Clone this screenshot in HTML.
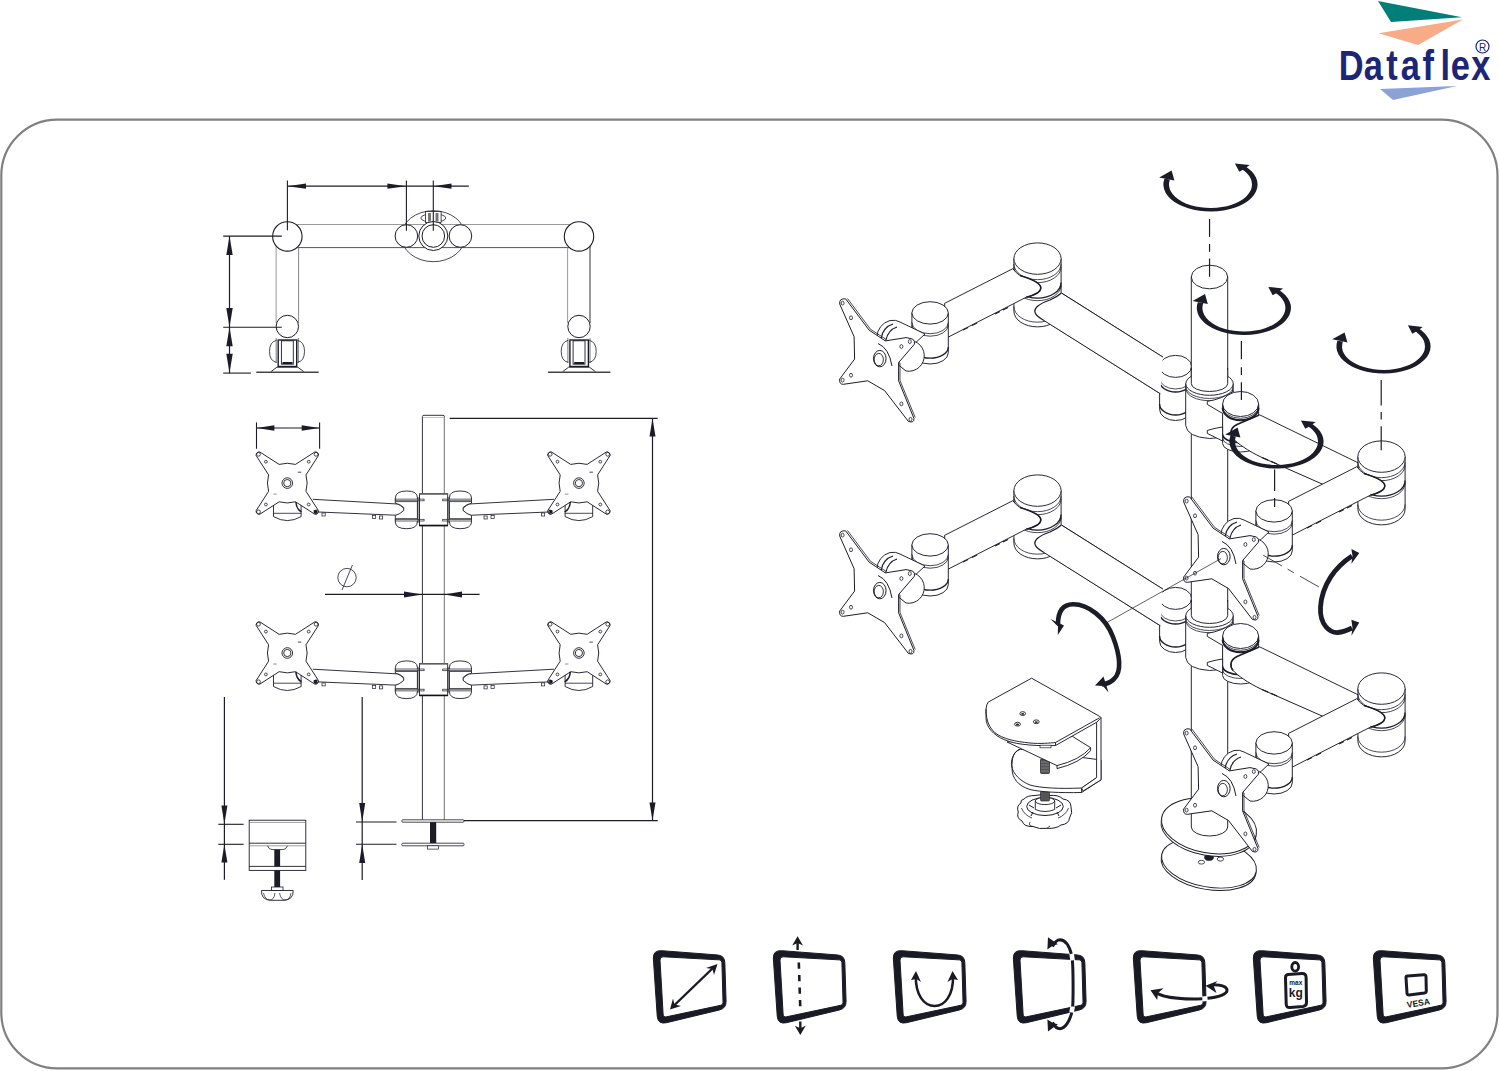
<!DOCTYPE html>
<html><head><meta charset="utf-8">
<style>
html,body{margin:0;padding:0;background:#fff;width:1499px;height:1071px;overflow:hidden;}
svg{display:block;position:absolute;left:0;top:0;}
text{font-family:"Liberation Sans",sans-serif;}
</style></head>
<body>
<svg width="1499" height="1071" viewBox="0 0 1499 1071">
<rect x="1.3" y="119.6" width="1496.2" height="948.8" rx="56" ry="56" fill="none" stroke="#808080" stroke-width="2.2"/>
<g id="logo">
  <polygon points="1378,1 1462,17.3 1391,22" fill="#007f78"/>
  <polygon points="1378.5,33.2 1463,19.6 1418,45" fill="#f7ab86"/>
  <polygon points="1380,89 1457,86 1393,100" fill="#8aa2d5"/>
  <text x="0" y="0" font-size="43" font-weight="bold" fill="#1c2576" text-anchor="middle" transform="translate(1351.2,79.5) scale(0.8,1)">D</text>
  <text x="0" y="0" font-size="43" font-weight="bold" fill="#1c2576" text-anchor="middle" transform="translate(1373.4,79.5) scale(0.8,1)">a</text>
  <text x="0" y="0" font-size="43" font-weight="bold" fill="#1c2576" text-anchor="middle" transform="translate(1392,79.5) scale(0.8,1)">t</text>
  <text x="0" y="0" font-size="43" font-weight="bold" fill="#1c2576" text-anchor="middle" transform="translate(1410.4,79.5) scale(0.8,1)">a</text>
  <text x="0" y="0" font-size="43" font-weight="bold" fill="#1c2576" text-anchor="middle" transform="translate(1428.2,79.5) scale(0.8,1)">f</text>
  <text x="0" y="0" font-size="43" font-weight="bold" fill="#1c2576" text-anchor="middle" transform="translate(1445.3,79.5) scale(0.8,1)">l</text>
  <text x="0" y="0" font-size="43" font-weight="bold" fill="#1c2576" text-anchor="middle" transform="translate(1460.3,79.5) scale(0.8,1)">e</text>
  <text x="0" y="0" font-size="43" font-weight="bold" fill="#1c2576" text-anchor="middle" transform="translate(1480.8,79.5) scale(0.8,1)">x</text>
  <circle cx="1482.5" cy="46.5" r="6.5" fill="none" stroke="#1c2576" stroke-width="1.2"/>
  <text x="1482.5" y="50.5" font-size="10" fill="#1c2576" text-anchor="middle">R</text>
</g>
<g id="topview" fill="none" stroke-linecap="butt">
<line x1="287.4" y1="186.2" x2="468.8" y2="186.2" stroke="#1b1c28" stroke-width="1.2"/>
<polygon points="287.4,186.2 306,188.8 306,183.6" fill="#1b1c28"/>
<polygon points="406.2,186.2 387.4,183.6 387.4,188.8" fill="#1b1c28"/>
<polygon points="433.5,186.2 451.5,188.8 451.5,183.6" fill="#1b1c28"/>
<ellipse cx="433.3" cy="236.2" rx="32" ry="25.5" stroke="#1b1c28" stroke-width="0.8"/>
<line x1="287" y1="224.5" x2="579" y2="224.5" stroke="#9a9a9a" stroke-width="1.0"/>
<line x1="287" y1="247.6" x2="579" y2="247.6" stroke="#555" stroke-width="1.0"/>
<line x1="276.1" y1="236" x2="276.1" y2="323" stroke="#999" stroke-width="1.0"/>
<line x1="298.6" y1="247.6" x2="298.6" y2="323" stroke="#888" stroke-width="1.0"/>
<line x1="567.6" y1="247.6" x2="567.6" y2="323" stroke="#999" stroke-width="1.0"/>
<line x1="590" y1="236" x2="590" y2="323" stroke="#333" stroke-width="1.0"/>
<circle cx="287.35" cy="236.4" r="14.7" fill="#fff" stroke="#1b1c28" stroke-width="1.1"/>
<circle cx="287.35" cy="326.5" r="11.2" fill="#fff" stroke="#1b1c28" stroke-width="1"/>
<circle cx="579" cy="236.4" r="14.7" fill="#fff" stroke="#1b1c28" stroke-width="1.1"/>
<circle cx="579" cy="326.5" r="11.2" fill="#fff" stroke="#1b1c28" stroke-width="1"/>
<ellipse cx="433.3" cy="218" rx="12.5" ry="4.2" fill="#fff" stroke="#1b1c28" stroke-width="0.8"/>
<rect x="425.5" y="211.5" width="15.6" height="11" fill="#fff" stroke="#1b1c28" stroke-width="0.8"/>
<rect x="428" y="213" width="3" height="8.5" fill="#777"/>
<rect x="435.5" y="213" width="3" height="8.5" fill="#777"/>
<circle cx="406.4" cy="236" r="11.3" fill="#fff" stroke="#1b1c28" stroke-width="1"/>
<circle cx="460.4" cy="236" r="11.3" fill="#fff" stroke="#1b1c28" stroke-width="1"/>
<circle cx="433.3" cy="236" r="14.5" fill="#fff" stroke="#1b1c28" stroke-width="1"/>
<circle cx="433.3" cy="236" r="11.3" fill="#fff" stroke="#1b1c28" stroke-width="1"/>
<line x1="406.4" y1="180.5" x2="406.4" y2="230.8" stroke="#1b1c28" stroke-width="1.1"/>
<line x1="287.4" y1="180.5" x2="287.4" y2="230.3" stroke="#1b1c28" stroke-width="1.1"/>
<line x1="433.3" y1="180.5" x2="433.3" y2="230.8" stroke="#1b1c28" stroke-width="1.1"/>
<g transform="translate(0,0)"><path d="M276.5,340.3 Q269.5,342 269.5,351.3 Q269.5,361 276.5,362.4" stroke="#1b1c28" stroke-width="0.8"/><path d="M297.5,340.3 Q304.5,342 304.5,351.3 Q304.5,361 297.5,362.4" stroke="#1b1c28" stroke-width="0.8"/><rect x="278.2" y="340" width="18.5" height="26.5" fill="#fff" stroke="#1b1c28" stroke-width="1.4"/><rect x="281.4" y="340.8" width="11.9" height="23.4" stroke="#1b1c28" stroke-width="0.9"/><rect x="282.5" y="362" width="10" height="2" fill="#1b1c28"/><line x1="276.2" y1="338" x2="276.2" y2="363" stroke="#1b1c28" stroke-width="0.6"/><line x1="298.3" y1="338" x2="298.3" y2="363" stroke="#1b1c28" stroke-width="0.6"/><polyline points="270.9,371.7 276.9,367.2 297.8,367.2 303.8,371.7" stroke="#1b1c28" stroke-width="0.9"/><line x1="256.3" y1="372.2" x2="318.7" y2="372.2" stroke="#444" stroke-width="1.5"/></g>
<g transform="translate(291.7,0)"><path d="M276.5,340.3 Q269.5,342 269.5,351.3 Q269.5,361 276.5,362.4" stroke="#1b1c28" stroke-width="0.8"/><path d="M297.5,340.3 Q304.5,342 304.5,351.3 Q304.5,361 297.5,362.4" stroke="#1b1c28" stroke-width="0.8"/><rect x="278.2" y="340" width="18.5" height="26.5" fill="#fff" stroke="#1b1c28" stroke-width="1.4"/><rect x="281.4" y="340.8" width="11.9" height="23.4" stroke="#1b1c28" stroke-width="0.9"/><rect x="282.5" y="362" width="10" height="2" fill="#1b1c28"/><line x1="276.2" y1="338" x2="276.2" y2="363" stroke="#1b1c28" stroke-width="0.6"/><line x1="298.3" y1="338" x2="298.3" y2="363" stroke="#1b1c28" stroke-width="0.6"/><polyline points="270.9,371.7 276.9,367.2 297.8,367.2 303.8,371.7" stroke="#1b1c28" stroke-width="0.9"/><line x1="256.3" y1="372.2" x2="318.7" y2="372.2" stroke="#444" stroke-width="1.5"/></g>
<line x1="229.5" y1="236.1" x2="229.5" y2="373.1" stroke="#1b1c28" stroke-width="1.2"/>
<line x1="223.2" y1="236.1" x2="281.8" y2="236.1" stroke="#1b1c28" stroke-width="1.1"/>
<line x1="223.2" y1="327.3" x2="281.8" y2="327.3" stroke="#1b1c28" stroke-width="1.1"/>
<line x1="223.2" y1="373.1" x2="250.9" y2="373.1" stroke="#1b1c28" stroke-width="1.1"/>
<polygon points="229.5,236.1 226.3,255.1 232.7,255.1" fill="#1b1c28"/>
<polygon points="229.5,327.3 232.7,308.1 226.3,308.1" fill="#1b1c28"/>
<polygon points="229.5,327.3 226.3,346.2 232.7,346.2" fill="#1b1c28"/>
<polygon points="229.5,373.1 232.7,353.7 226.3,353.7" fill="#1b1c28"/>
</g>
<g id="frontview" fill="none" stroke-linecap="butt">
<path d="M422.4,820 L422.4,416.5 Q422.5,415.3 424,415.3 L443,415.3 Q444.4,415.3 444.4,416.5 L444.4,820" fill="#fff" stroke="#1b1c28" stroke-width="0.9"/>
<line x1="444.4" y1="417" x2="444.4" y2="820" stroke="#999" stroke-width="1.0"/>
<line x1="422.7" y1="417.5" x2="444.1" y2="417.5" stroke="#aaa" stroke-width="0.7"/>
<g transform="translate(0,0.0)"><path d="M312.8,499.3 L397.7,504 Q405,508 404,509.3 Q405,511 397.7,515.3 L318.4,512" fill="#fff" stroke="#1b1c28" stroke-width="0.9"/><path d="M554,499.3 L469.1,504 Q462,508 463,509.3 Q462,511 469.1,515.3 L548.4,512" fill="#fff" stroke="#1b1c28" stroke-width="0.9"/><rect x="322" y="513" width="3.2" height="3" stroke="#1b1c28" stroke-width="0.7"/><rect x="372.5" y="515.5" width="3.2" height="3" stroke="#1b1c28" stroke-width="0.7"/><rect x="379.5" y="516" width="3.2" height="3" stroke="#1b1c28" stroke-width="0.7"/><rect x="541.5" y="513" width="3.2" height="3" stroke="#1b1c28" stroke-width="0.7"/><rect x="491" y="515.5" width="3.2" height="3" stroke="#1b1c28" stroke-width="0.7"/><rect x="484" y="516" width="3.2" height="3" stroke="#1b1c28" stroke-width="0.7"/><g><path d="M395.3,498 Q395.6,491 406.7,491 Q417.5,491 417.4,497.7 L417.4,521.5 Q417.5,528.7 406.7,528.7 Q395.6,528.7 395.3,522 L395.3,515.5 Q400,514 403.7,510.5 L403.7,507.5 Q400,504 395.3,503.2 Z" fill="#fff" stroke="#1b1c28" stroke-width="0.9"/><rect x="395.3" y="499.1" width="28.8" height="1.7" fill="#fff" stroke="#1b1c28" stroke-width="0.7"/><rect x="395.3" y="519.3" width="28.8" height="1.7" fill="#fff" stroke="#1b1c28" stroke-width="0.7"/><line x1="395.5" y1="501.6" x2="417.5" y2="501.6" stroke="#444" stroke-width="0.9"/><line x1="395.5" y1="518.6" x2="417.5" y2="518.6" stroke="#444" stroke-width="0.9"/><line x1="417.9" y1="497" x2="417.9" y2="523" stroke="#1b1c28" stroke-width="0.7"/><line x1="419.3" y1="497" x2="419.3" y2="523" stroke="#1b1c28" stroke-width="0.7"/></g><g transform="translate(866.8,0) scale(-1,1)"><path d="M395.3,498 Q395.6,491 406.7,491 Q417.5,491 417.4,497.7 L417.4,521.5 Q417.5,528.7 406.7,528.7 Q395.6,528.7 395.3,522 L395.3,515.5 Q400,514 403.7,510.5 L403.7,507.5 Q400,504 395.3,503.2 Z" fill="#fff" stroke="#1b1c28" stroke-width="0.9"/><rect x="395.3" y="499.1" width="28.8" height="1.7" fill="#fff" stroke="#1b1c28" stroke-width="0.7"/><rect x="395.3" y="519.3" width="28.8" height="1.7" fill="#fff" stroke="#1b1c28" stroke-width="0.7"/><line x1="395.5" y1="501.6" x2="417.5" y2="501.6" stroke="#444" stroke-width="0.9"/><line x1="395.5" y1="518.6" x2="417.5" y2="518.6" stroke="#444" stroke-width="0.9"/><line x1="417.9" y1="497" x2="417.9" y2="523" stroke="#1b1c28" stroke-width="0.7"/><line x1="419.3" y1="497" x2="419.3" y2="523" stroke="#1b1c28" stroke-width="0.7"/></g><rect x="419.5" y="493.7" width="28.2" height="32" fill="#fff" stroke="#1b1c28" stroke-width="0.9"/><rect x="419.5" y="499.1" width="4.6" height="1.7" fill="#fff" stroke="#1b1c28" stroke-width="0.7"/><rect x="419.5" y="519.3" width="4.6" height="1.7" fill="#fff" stroke="#1b1c28" stroke-width="0.7"/><rect x="442.7" y="499.1" width="4.6" height="1.7" fill="#fff" stroke="#1b1c28" stroke-width="0.7"/><rect x="442.7" y="519.3" width="4.6" height="1.7" fill="#fff" stroke="#1b1c28" stroke-width="0.7"/><line x1="419.5" y1="494" x2="447.7" y2="494" stroke="#666" stroke-width="1.5"/><line x1="419.5" y1="525.5" x2="447.7" y2="525.5" stroke="#111" stroke-width="1.6"/></g>
<g transform="translate(287.3,483.1)"><path d="M-13.8,17 L-13.8,33.5 Q0,41.5 13.8,33.5 L13.8,17" fill="#fff" stroke="#1b1c28" stroke-width="0.9"/><line x1="-13.8" y1="30.2" x2="13.8" y2="30.2" stroke="#1b1c28" stroke-width="0.8"/><path d="M-27.6,-31.2 L-8.2,-18.7 Q0,-21 8.2,-18.7 L27.6,-31.2 A3.2,3.2 0 0 1 31.2,-27.6 L18.7,-8.2 Q21,0 18.7,8.2 L31.2,27.6 A3.2,3.2 0 0 1 27.6,31.2 L8.2,18.7 Q0,21 -8.2,18.7 L-27.6,31.2 A3.2,3.2 0 0 1 -31.2,27.6 L-18.7,8.2 Q-21,0 -18.7,-8.2 L-31.2,-27.6 A3.2,3.2 0 0 1 -27.6,-31.2 Z" fill="#fff" stroke="#1b1c28" stroke-width="0.95"/><path d="M8.6,18.9 Q9,26 14.2,28.8" fill="none" stroke="#1b1c28" stroke-width="1.5"/><rect x="26.5" y="27" width="3.2" height="3.2" fill="#1b1c28"/><circle cx="-28.8" cy="-28.8" r="1.9" stroke="#1b1c28" stroke-width="0.8"/><circle cx="-21.4" cy="-21.4" r="1.4" stroke="#1b1c28" stroke-width="0.8"/><circle cx="-28.8" cy="28.8" r="1.9" stroke="#1b1c28" stroke-width="0.8"/><circle cx="-21.4" cy="21.4" r="1.4" stroke="#1b1c28" stroke-width="0.8"/><circle cx="28.8" cy="-28.8" r="1.9" stroke="#1b1c28" stroke-width="0.8"/><circle cx="21.4" cy="-21.4" r="1.4" stroke="#1b1c28" stroke-width="0.8"/><circle cx="28.8" cy="28.8" r="1.9" stroke="#1b1c28" stroke-width="0.8"/><circle cx="21.4" cy="21.4" r="1.4" stroke="#1b1c28" stroke-width="0.8"/><circle cx="0" cy="0" r="5.3" stroke="#1b1c28" stroke-width="0.9"/><circle cx="0" cy="0" r="3.6" stroke="#1b1c28" stroke-width="0.9"/><line x1="10.5" y1="-10.9" x2="14" y2="-10.9" stroke="#1b1c28" stroke-width="0.8"/><line x1="-14" y1="11" x2="-10.5" y2="11" stroke="#777" stroke-width="0.8"/></g>
<g transform="translate(578.9,483.1)"><path d="M-13.8,17 L-13.8,33.5 Q0,41.5 13.8,33.5 L13.8,17" fill="#fff" stroke="#1b1c28" stroke-width="0.9"/><line x1="-13.8" y1="30.2" x2="13.8" y2="30.2" stroke="#1b1c28" stroke-width="0.8"/><path d="M-27.6,-31.2 L-8.2,-18.7 Q0,-21 8.2,-18.7 L27.6,-31.2 A3.2,3.2 0 0 1 31.2,-27.6 L18.7,-8.2 Q21,0 18.7,8.2 L31.2,27.6 A3.2,3.2 0 0 1 27.6,31.2 L8.2,18.7 Q0,21 -8.2,18.7 L-27.6,31.2 A3.2,3.2 0 0 1 -31.2,27.6 L-18.7,8.2 Q-21,0 -18.7,-8.2 L-31.2,-27.6 A3.2,3.2 0 0 1 -27.6,-31.2 Z" fill="#fff" stroke="#1b1c28" stroke-width="0.95"/><path d="M-8.6,18.9 Q-9,26 -14.2,28.8" fill="none" stroke="#1b1c28" stroke-width="1.5"/><rect x="-29.7" y="27" width="3.2" height="3.2" fill="#1b1c28"/><circle cx="-28.8" cy="-28.8" r="1.9" stroke="#1b1c28" stroke-width="0.8"/><circle cx="-21.4" cy="-21.4" r="1.4" stroke="#1b1c28" stroke-width="0.8"/><circle cx="-28.8" cy="28.8" r="1.9" stroke="#1b1c28" stroke-width="0.8"/><circle cx="-21.4" cy="21.4" r="1.4" stroke="#1b1c28" stroke-width="0.8"/><circle cx="28.8" cy="-28.8" r="1.9" stroke="#1b1c28" stroke-width="0.8"/><circle cx="21.4" cy="-21.4" r="1.4" stroke="#1b1c28" stroke-width="0.8"/><circle cx="28.8" cy="28.8" r="1.9" stroke="#1b1c28" stroke-width="0.8"/><circle cx="21.4" cy="21.4" r="1.4" stroke="#1b1c28" stroke-width="0.8"/><circle cx="0" cy="0" r="5.3" stroke="#1b1c28" stroke-width="0.9"/><circle cx="0" cy="0" r="3.6" stroke="#1b1c28" stroke-width="0.9"/><line x1="10.5" y1="-10.9" x2="14" y2="-10.9" stroke="#1b1c28" stroke-width="0.8"/><line x1="-14" y1="11" x2="-10.5" y2="11" stroke="#777" stroke-width="0.8"/></g>
<g transform="translate(0,169.89999999999998)"><path d="M312.8,499.3 L397.7,504 Q405,508 404,509.3 Q405,511 397.7,515.3 L318.4,512" fill="#fff" stroke="#1b1c28" stroke-width="0.9"/><path d="M554,499.3 L469.1,504 Q462,508 463,509.3 Q462,511 469.1,515.3 L548.4,512" fill="#fff" stroke="#1b1c28" stroke-width="0.9"/><rect x="322" y="513" width="3.2" height="3" stroke="#1b1c28" stroke-width="0.7"/><rect x="372.5" y="515.5" width="3.2" height="3" stroke="#1b1c28" stroke-width="0.7"/><rect x="379.5" y="516" width="3.2" height="3" stroke="#1b1c28" stroke-width="0.7"/><rect x="541.5" y="513" width="3.2" height="3" stroke="#1b1c28" stroke-width="0.7"/><rect x="491" y="515.5" width="3.2" height="3" stroke="#1b1c28" stroke-width="0.7"/><rect x="484" y="516" width="3.2" height="3" stroke="#1b1c28" stroke-width="0.7"/><g><path d="M395.3,498 Q395.6,491 406.7,491 Q417.5,491 417.4,497.7 L417.4,521.5 Q417.5,528.7 406.7,528.7 Q395.6,528.7 395.3,522 L395.3,515.5 Q400,514 403.7,510.5 L403.7,507.5 Q400,504 395.3,503.2 Z" fill="#fff" stroke="#1b1c28" stroke-width="0.9"/><rect x="395.3" y="499.1" width="28.8" height="1.7" fill="#fff" stroke="#1b1c28" stroke-width="0.7"/><rect x="395.3" y="519.3" width="28.8" height="1.7" fill="#fff" stroke="#1b1c28" stroke-width="0.7"/><line x1="395.5" y1="501.6" x2="417.5" y2="501.6" stroke="#444" stroke-width="0.9"/><line x1="395.5" y1="518.6" x2="417.5" y2="518.6" stroke="#444" stroke-width="0.9"/><line x1="417.9" y1="497" x2="417.9" y2="523" stroke="#1b1c28" stroke-width="0.7"/><line x1="419.3" y1="497" x2="419.3" y2="523" stroke="#1b1c28" stroke-width="0.7"/></g><g transform="translate(866.8,0) scale(-1,1)"><path d="M395.3,498 Q395.6,491 406.7,491 Q417.5,491 417.4,497.7 L417.4,521.5 Q417.5,528.7 406.7,528.7 Q395.6,528.7 395.3,522 L395.3,515.5 Q400,514 403.7,510.5 L403.7,507.5 Q400,504 395.3,503.2 Z" fill="#fff" stroke="#1b1c28" stroke-width="0.9"/><rect x="395.3" y="499.1" width="28.8" height="1.7" fill="#fff" stroke="#1b1c28" stroke-width="0.7"/><rect x="395.3" y="519.3" width="28.8" height="1.7" fill="#fff" stroke="#1b1c28" stroke-width="0.7"/><line x1="395.5" y1="501.6" x2="417.5" y2="501.6" stroke="#444" stroke-width="0.9"/><line x1="395.5" y1="518.6" x2="417.5" y2="518.6" stroke="#444" stroke-width="0.9"/><line x1="417.9" y1="497" x2="417.9" y2="523" stroke="#1b1c28" stroke-width="0.7"/><line x1="419.3" y1="497" x2="419.3" y2="523" stroke="#1b1c28" stroke-width="0.7"/></g><rect x="419.5" y="493.7" width="28.2" height="32" fill="#fff" stroke="#1b1c28" stroke-width="0.9"/><rect x="419.5" y="499.1" width="4.6" height="1.7" fill="#fff" stroke="#1b1c28" stroke-width="0.7"/><rect x="419.5" y="519.3" width="4.6" height="1.7" fill="#fff" stroke="#1b1c28" stroke-width="0.7"/><rect x="442.7" y="499.1" width="4.6" height="1.7" fill="#fff" stroke="#1b1c28" stroke-width="0.7"/><rect x="442.7" y="519.3" width="4.6" height="1.7" fill="#fff" stroke="#1b1c28" stroke-width="0.7"/><line x1="419.5" y1="494" x2="447.7" y2="494" stroke="#666" stroke-width="1.5"/><line x1="419.5" y1="525.5" x2="447.7" y2="525.5" stroke="#111" stroke-width="1.6"/></g>
<g transform="translate(287.3,653)"><path d="M-13.8,17 L-13.8,33.5 Q0,41.5 13.8,33.5 L13.8,17" fill="#fff" stroke="#1b1c28" stroke-width="0.9"/><line x1="-13.8" y1="30.2" x2="13.8" y2="30.2" stroke="#1b1c28" stroke-width="0.8"/><path d="M-27.6,-31.2 L-8.2,-18.7 Q0,-21 8.2,-18.7 L27.6,-31.2 A3.2,3.2 0 0 1 31.2,-27.6 L18.7,-8.2 Q21,0 18.7,8.2 L31.2,27.6 A3.2,3.2 0 0 1 27.6,31.2 L8.2,18.7 Q0,21 -8.2,18.7 L-27.6,31.2 A3.2,3.2 0 0 1 -31.2,27.6 L-18.7,8.2 Q-21,0 -18.7,-8.2 L-31.2,-27.6 A3.2,3.2 0 0 1 -27.6,-31.2 Z" fill="#fff" stroke="#1b1c28" stroke-width="0.95"/><path d="M8.6,18.9 Q9,26 14.2,28.8" fill="none" stroke="#1b1c28" stroke-width="1.5"/><rect x="26.5" y="27" width="3.2" height="3.2" fill="#1b1c28"/><circle cx="-28.8" cy="-28.8" r="1.9" stroke="#1b1c28" stroke-width="0.8"/><circle cx="-21.4" cy="-21.4" r="1.4" stroke="#1b1c28" stroke-width="0.8"/><circle cx="-28.8" cy="28.8" r="1.9" stroke="#1b1c28" stroke-width="0.8"/><circle cx="-21.4" cy="21.4" r="1.4" stroke="#1b1c28" stroke-width="0.8"/><circle cx="28.8" cy="-28.8" r="1.9" stroke="#1b1c28" stroke-width="0.8"/><circle cx="21.4" cy="-21.4" r="1.4" stroke="#1b1c28" stroke-width="0.8"/><circle cx="28.8" cy="28.8" r="1.9" stroke="#1b1c28" stroke-width="0.8"/><circle cx="21.4" cy="21.4" r="1.4" stroke="#1b1c28" stroke-width="0.8"/><circle cx="0" cy="0" r="5.3" stroke="#1b1c28" stroke-width="0.9"/><circle cx="0" cy="0" r="3.6" stroke="#1b1c28" stroke-width="0.9"/><line x1="10.5" y1="-10.9" x2="14" y2="-10.9" stroke="#1b1c28" stroke-width="0.8"/><line x1="-14" y1="11" x2="-10.5" y2="11" stroke="#777" stroke-width="0.8"/></g>
<g transform="translate(578.9,653)"><path d="M-13.8,17 L-13.8,33.5 Q0,41.5 13.8,33.5 L13.8,17" fill="#fff" stroke="#1b1c28" stroke-width="0.9"/><line x1="-13.8" y1="30.2" x2="13.8" y2="30.2" stroke="#1b1c28" stroke-width="0.8"/><path d="M-27.6,-31.2 L-8.2,-18.7 Q0,-21 8.2,-18.7 L27.6,-31.2 A3.2,3.2 0 0 1 31.2,-27.6 L18.7,-8.2 Q21,0 18.7,8.2 L31.2,27.6 A3.2,3.2 0 0 1 27.6,31.2 L8.2,18.7 Q0,21 -8.2,18.7 L-27.6,31.2 A3.2,3.2 0 0 1 -31.2,27.6 L-18.7,8.2 Q-21,0 -18.7,-8.2 L-31.2,-27.6 A3.2,3.2 0 0 1 -27.6,-31.2 Z" fill="#fff" stroke="#1b1c28" stroke-width="0.95"/><path d="M-8.6,18.9 Q-9,26 -14.2,28.8" fill="none" stroke="#1b1c28" stroke-width="1.5"/><rect x="-29.7" y="27" width="3.2" height="3.2" fill="#1b1c28"/><circle cx="-28.8" cy="-28.8" r="1.9" stroke="#1b1c28" stroke-width="0.8"/><circle cx="-21.4" cy="-21.4" r="1.4" stroke="#1b1c28" stroke-width="0.8"/><circle cx="-28.8" cy="28.8" r="1.9" stroke="#1b1c28" stroke-width="0.8"/><circle cx="-21.4" cy="21.4" r="1.4" stroke="#1b1c28" stroke-width="0.8"/><circle cx="28.8" cy="-28.8" r="1.9" stroke="#1b1c28" stroke-width="0.8"/><circle cx="21.4" cy="-21.4" r="1.4" stroke="#1b1c28" stroke-width="0.8"/><circle cx="28.8" cy="28.8" r="1.9" stroke="#1b1c28" stroke-width="0.8"/><circle cx="21.4" cy="21.4" r="1.4" stroke="#1b1c28" stroke-width="0.8"/><circle cx="0" cy="0" r="5.3" stroke="#1b1c28" stroke-width="0.9"/><circle cx="0" cy="0" r="3.6" stroke="#1b1c28" stroke-width="0.9"/><line x1="10.5" y1="-10.9" x2="14" y2="-10.9" stroke="#1b1c28" stroke-width="0.8"/><line x1="-14" y1="11" x2="-10.5" y2="11" stroke="#777" stroke-width="0.8"/></g>
<line x1="256.5" y1="428" x2="319.6" y2="428" stroke="#1b1c28" stroke-width="1.2"/>
<polygon points="256.5,428 274.4,430.8 274.4,425.2" fill="#1b1c28"/>
<polygon points="319.6,428 301.7,425.2 301.7,430.8" fill="#1b1c28"/>
<line x1="256.5" y1="422.4" x2="256.5" y2="448.8" stroke="#1b1c28" stroke-width="1.1"/>
<line x1="319.6" y1="422.4" x2="319.6" y2="448.8" stroke="#1b1c28" stroke-width="1.1"/>
<line x1="449.7" y1="418.4" x2="657.7" y2="418.4" stroke="#1b1c28" stroke-width="1.1"/>
<line x1="652.5" y1="418.4" x2="652.5" y2="820.6" stroke="#1b1c28" stroke-width="1.2"/>
<polygon points="652.5,418.4 649.5,436.4 655.5,436.4" fill="#1b1c28"/>
<polygon points="652.5,820.6 655.5,802.6 649.5,802.6" fill="#1b1c28"/>
<line x1="450" y1="820.6" x2="657.7" y2="820.6" stroke="#1b1c28" stroke-width="1.1"/>
<line x1="325" y1="594.4" x2="479.6" y2="594.4" stroke="#1b1c28" stroke-width="1.2"/>
<polygon points="422.4,594.4 404,591.4 404,597.4" fill="#1b1c28"/>
<polygon points="444.2,594.4 462,597.4 462,591.4" fill="#1b1c28"/>
<circle cx="347" cy="577.6" r="9.2" stroke="#1b1c28" stroke-width="0.8"/>
<line x1="342" y1="590" x2="352.4" y2="565" stroke="#1b1c28" stroke-width="0.8"/>
<line x1="224.4" y1="697" x2="224.4" y2="879.7" stroke="#1b1c28" stroke-width="1.2"/>
<line x1="218.3" y1="824.3" x2="243.6" y2="824.3" stroke="#1b1c28" stroke-width="1.1"/>
<line x1="218.3" y1="844.3" x2="243.6" y2="844.3" stroke="#1b1c28" stroke-width="1.1"/>
<polygon points="224.4,824.3 227.4,805.6 221.4,805.6" fill="#1b1c28"/>
<polygon points="224.4,844.3 221.4,862.5 227.4,862.5" fill="#1b1c28"/>
<line x1="362.2" y1="697" x2="362.2" y2="880" stroke="#1b1c28" stroke-width="1.2"/>
<line x1="356" y1="822" x2="396.5" y2="822" stroke="#1b1c28" stroke-width="1.1"/>
<line x1="356" y1="844.3" x2="396.5" y2="844.3" stroke="#1b1c28" stroke-width="1.1"/>
<polygon points="362.2,822 365.2,803 359.2,803" fill="#1b1c28"/>
<polygon points="362.2,844.3 359.2,863 365.2,863" fill="#1b1c28"/>
<rect x="249.2" y="820.2" width="56.6" height="50.2" fill="#fff" stroke="#1b1c28" stroke-width="0.9"/>
<line x1="249.2" y1="822.4" x2="305.8" y2="822.4" stroke="#777" stroke-width="0.7"/>
<line x1="249.2" y1="843.2" x2="305.8" y2="843.2" stroke="#1b1c28" stroke-width="0.9"/>
<line x1="249.2" y1="845.8" x2="305.8" y2="845.8" stroke="#777" stroke-width="0.7"/>
<line x1="249.2" y1="866.4" x2="305.8" y2="866.4" stroke="#1b1c28" stroke-width="0.9"/>
<path d="M267.5,845.8 Q269,849.5 272,849.6 L283,849.6 Q286,849.5 287.5,845.8" stroke="#1b1c28" stroke-width="0.8"/>
<rect x="274.3" y="849.6" width="5.8" height="16.8" fill="#1b1c28"/>
<rect x="274.3" y="870.4" width="5.8" height="16.8" fill="#1b1c28"/>
<rect x="271.5" y="887" width="11.5" height="3.6" fill="#fff" stroke="#1b1c28" stroke-width="0.8"/>
<path d="M261.5,890.5 L293.2,890.5 Q293.5,899.8 284,900.3 L270.5,900.3 Q261,899.8 261.5,890.5 Z" fill="#fff" stroke="#1b1c28" stroke-width="0.9"/>
<path d="M263.5,893 Q265,900 270,900 Q274,900 275,893" stroke="#1b1c28" stroke-width="0.7"/>
<path d="M279.5,893 Q281,900 285,900 Q290,900 291,893" stroke="#1b1c28" stroke-width="0.7"/>
<rect x="401.8" y="819.8" width="62.2" height="2.4" rx="1" fill="#fff" stroke="#1b1c28" stroke-width="0.8"/>
<rect x="430" y="822.2" width="6.2" height="21" fill="#1b1c28"/>
<rect x="401.8" y="843.2" width="62.2" height="2.6" rx="1" fill="#fff" stroke="#1b1c28" stroke-width="0.8"/>
<rect x="427.6" y="845.8" width="10.8" height="3.3" fill="#fff" stroke="#1b1c28" stroke-width="0.7"/>
</g>
<defs><g id="asm"><path d="M944.5,303.4 L1012.8,268.7 Q1016,273 1020,275.5 C1035,280 1041,284 1040.8,288 C1040.5,292 1034,295.5 1026.3,297.2 L947.3,337.6 Z" fill="#fff" stroke="#1b1c28" stroke-width="0.95"/><path d="M1020,275.5 C1035,280 1041,284 1040.8,288 C1040.5,292 1034,295.5 1026.3,297.2" fill="none" stroke="#1b1c28" stroke-width="1.6"/><path d="M963,330 l5,-2.5 M972,325.5 l5,-2.5 M995,314 l5,-2.5 M1003,310 l5,-2.5" fill="none" stroke="#1b1c28" stroke-width="1.2"/><path d="M911.9,312.9 L911.9,352.8 A18.2,11.2 0 0 0 948.3,352.8 L948.3,312.9 Z" fill="#fff" stroke="#1b1c28" stroke-width="0.95"/><ellipse cx="930.1" cy="312.9" rx="18.2" ry="11.2" fill="#fff" stroke="#1b1c28" stroke-width="0.95"/><path d="M911.9,322.5 A18.2,11.2 0 0 0 948.3,322.5" fill="none" stroke="#1b1c28" stroke-width="0.8"/><path d="M911.9,325 A18.2,11.2 0 0 0 948.3,325" fill="none" stroke="#1b1c28" stroke-width="0.8"/><path d="M911.9,347 A18.2,11.2 0 0 0 948.3,347" fill="none" stroke="#1b1c28" stroke-width="1.3"/><path d="M876.5,338 Q878,324 890,320.5 Q896,319.5 900,322 L925,334 L912,346 L886,341 Z" fill="#fff" stroke="#1b1c28" stroke-width="0.95"/><path d="M881,338.5 Q883,327 893,324 M886,340 Q888,330 897,327" fill="none" stroke="#1b1c28" stroke-width="1.2"/><path d="M904,341 A15.5,15.5 0 1 1 906,371 L898.6,365 Z" fill="#fff" stroke="#1b1c28" stroke-width="0.95"/><path d="M845.7,298.9 L869.1,330.1 L885.4,340.9 L906,337.6 L912.5,339 Q915.5,341 914.4,344.2 L898.6,362.6 L898.6,380.8 L914,418.6 Q914,423.5 908.4,421.4 L884.6,390.6 L867.8,380.8 L843.4,384.3 Q839,384.5 839.7,379 L854.6,359.1 L854.1,336.7 L839.7,304 Q839,298 845.7,298.9 Z" fill="#fff" stroke="#1b1c28" stroke-width="1.0"/><path d="M847.5,298.5 L870.5,329.3 L886,339.3 M900,363 L900,380.5 L915.2,417.5" fill="none" stroke="#1b1c28" stroke-width="0.8"/><ellipse cx="842.6" cy="303.1" rx="1.5" ry="1.9" fill="none" stroke="#1b1c28" stroke-width="0.8"/><ellipse cx="851" cy="317.8" rx="1.5" ry="1.9" fill="none" stroke="#1b1c28" stroke-width="0.8"/><ellipse cx="901.4" cy="346.5" rx="1.5" ry="1.9" fill="none" stroke="#1b1c28" stroke-width="0.8"/><ellipse cx="909.8" cy="341.6" rx="1.5" ry="1.9" fill="none" stroke="#1b1c28" stroke-width="0.8"/><ellipse cx="842.6" cy="380.1" rx="1.5" ry="1.9" fill="none" stroke="#1b1c28" stroke-width="0.8"/><ellipse cx="851" cy="375.2" rx="1.5" ry="1.9" fill="none" stroke="#1b1c28" stroke-width="0.8"/><ellipse cx="901.4" cy="403.9" rx="1.5" ry="1.9" fill="none" stroke="#1b1c28" stroke-width="0.8"/><ellipse cx="910.5" cy="419.3" rx="1.5" ry="1.9" fill="none" stroke="#1b1c28" stroke-width="0.8"/><ellipse cx="879.8" cy="358.6" rx="6.3" ry="8.2" fill="#fff" stroke="#1b1c28" stroke-width="1.0"/><ellipse cx="878.8" cy="359.6" rx="4.6" ry="6.2" fill="none" stroke="#1b1c28" stroke-width="0.9"/><path d="M878,343.5 Q889,348 892,366" fill="none" stroke="#1b1c28" stroke-width="1.0"/></g><g id="bigcyl"><path d="M1013.9,258.6 L1013.9,311.2 A23.6,15.7 0 0 0 1061.1,311.2 L1061.1,258.6 Z" fill="#fff" stroke="#1b1c28" stroke-width="0.95"/><ellipse cx="1037.5" cy="258.6" rx="23.6" ry="15.7" fill="#fff" stroke="#1b1c28" stroke-width="0.95"/><path d="M1013.9,264 A23.6,15.7 0 0 0 1061.1,264" fill="none" stroke="#1b1c28" stroke-width="0.8"/><path d="M1013.9,267 A23.6,15.7 0 0 0 1061.1,267" fill="none" stroke="#1b1c28" stroke-width="0.8"/><path d="M1013.9,282.5 A23.6,15.7 0 0 0 1061.1,282.5" fill="none" stroke="#1b1c28" stroke-width="1.3"/><path d="M1013.9,285 A23.6,15.7 0 0 0 1061.1,285" fill="none" stroke="#1b1c28" stroke-width="0.8"/><path d="M1013.9,306.5 A23.6,15.7 0 0 0 1061.1,306.5" fill="none" stroke="#1b1c28" stroke-width="0.8"/></g></defs>
<g transform="translate(0,232)"><path d="M1061.6,293.1 L1162.9,357.1 L1160.3,393.7 L1050.5,324.4 Z" fill="#fff" stroke="#1b1c28" stroke-width="0"/><line x1="1061.6" y1="293.1" x2="1162.9" y2="357.1" stroke="#1b1c28" stroke-width="0.95"/><line x1="1047" y1="322.2" x2="1160.3" y2="393.7" stroke="#1b1c28" stroke-width="0.95"/><path d="M1060,330 l6,3.5 M1068,335 l6,3.5 M1126,371.5 l6,3.5 M1134,376.5 l6,3.5" fill="none" stroke="#1b1c28" stroke-width="1.2"/><path d="M1159.6,366.4 L1159.6,409.5 A16,11 0 0 0 1191.6,409.5 L1191.6,366.4 Z" fill="#fff" stroke="#1b1c28" stroke-width="0.95"/><ellipse cx="1175.6" cy="366.4" rx="16" ry="11" fill="#fff" stroke="#1b1c28" stroke-width="0.95"/><path d="M1159.6,378 A16,11 0 0 0 1191.6,378" fill="none" stroke="#1b1c28" stroke-width="0.8"/><path d="M1159.6,381 A16,11 0 0 0 1191.6,381" fill="none" stroke="#1b1c28" stroke-width="1.4"/><path d="M1159.6,404 A16,11 0 0 0 1191.6,404" fill="none" stroke="#1b1c28" stroke-width="1.4"/><use href="#bigcyl"/><path d="M1061.1,293.3 Q1057,297 1050,300 C1038,304 1033,309 1035.5,313.5 Q1037,316.5 1040.8,318.5 L1160.3,393.7 L1162.9,357.1 Z" fill="#fff" stroke="#1b1c28" stroke-width="0"/><path d="M1061.1,293.3 Q1057,297 1050,300 C1038,304 1033,309 1035.5,313.5 Q1037,316.5 1044,320.5" fill="none" stroke="#1b1c28" stroke-width="1.3"/><line x1="1061.6" y1="293.1" x2="1162.9" y2="357.1" stroke="#1b1c28" stroke-width="0.95"/><line x1="1044" y1="320.5" x2="1160.3" y2="393.7" stroke="#1b1c28" stroke-width="0.95"/><use href="#asm"/></g>
<g transform="translate(0,0)"><path d="M1061.6,293.1 L1162.9,357.1 L1160.3,393.7 L1050.5,324.4 Z" fill="#fff" stroke="#1b1c28" stroke-width="0"/><line x1="1061.6" y1="293.1" x2="1162.9" y2="357.1" stroke="#1b1c28" stroke-width="0.95"/><line x1="1047" y1="322.2" x2="1160.3" y2="393.7" stroke="#1b1c28" stroke-width="0.95"/><path d="M1060,330 l6,3.5 M1068,335 l6,3.5 M1126,371.5 l6,3.5 M1134,376.5 l6,3.5" fill="none" stroke="#1b1c28" stroke-width="1.2"/><path d="M1159.6,366.4 L1159.6,409.5 A16,11 0 0 0 1191.6,409.5 L1191.6,366.4 Z" fill="#fff" stroke="#1b1c28" stroke-width="0.95"/><ellipse cx="1175.6" cy="366.4" rx="16" ry="11" fill="#fff" stroke="#1b1c28" stroke-width="0.95"/><path d="M1159.6,378 A16,11 0 0 0 1191.6,378" fill="none" stroke="#1b1c28" stroke-width="0.8"/><path d="M1159.6,381 A16,11 0 0 0 1191.6,381" fill="none" stroke="#1b1c28" stroke-width="1.4"/><path d="M1159.6,404 A16,11 0 0 0 1191.6,404" fill="none" stroke="#1b1c28" stroke-width="1.4"/><use href="#bigcyl"/><path d="M1061.1,293.3 Q1057,297 1050,300 C1038,304 1033,309 1035.5,313.5 Q1037,316.5 1040.8,318.5 L1160.3,393.7 L1162.9,357.1 Z" fill="#fff" stroke="#1b1c28" stroke-width="0"/><path d="M1061.1,293.3 Q1057,297 1050,300 C1038,304 1033,309 1035.5,313.5 Q1037,316.5 1044,320.5" fill="none" stroke="#1b1c28" stroke-width="1.3"/><line x1="1061.6" y1="293.1" x2="1162.9" y2="357.1" stroke="#1b1c28" stroke-width="0.95"/><line x1="1044" y1="320.5" x2="1160.3" y2="393.7" stroke="#1b1c28" stroke-width="0.95"/><use href="#asm"/></g>
<g transform="rotate(10 1209 863)"><ellipse cx="1209" cy="865.5" rx="48" ry="24" fill="#fff" stroke="#1b1c28" stroke-width="0.95"/><ellipse cx="1209" cy="863" rx="48" ry="24" fill="#fff" stroke="#1b1c28" stroke-width="0.95"/></g>
<ellipse cx="1201.4" cy="862.2" rx="3.2" ry="1.9" fill="none" stroke="#1b1c28" stroke-width="0.8"/><ellipse cx="1220.4" cy="859.1" rx="3.2" ry="2" fill="none" stroke="#1b1c28" stroke-width="0.8"/><ellipse cx="1209" cy="857.6" rx="4.5" ry="3" fill="#1b1c28" stroke="#1b1c28" stroke-width="0.6"/>
<g transform="rotate(10 1209 826)"><ellipse cx="1209" cy="828.5" rx="48" ry="27" fill="#fff" stroke="#1b1c28" stroke-width="0.95"/><ellipse cx="1209" cy="826" rx="48" ry="27" fill="#fff" stroke="#1b1c28" stroke-width="0.95"/></g>
<rect x="1191.3" y="277" width="36.4" height="550" fill="#fff"/>
<line x1="1191.3" y1="277" x2="1191.3" y2="827" stroke="#1b1c28" stroke-width="0.95"/><line x1="1227.7" y1="277" x2="1227.7" y2="827" stroke="#1b1c28" stroke-width="0.95"/>
<path d="M1191.3,827 A18.2,9 0 0 0 1227.7,827" fill="none" stroke="#1b1c28" stroke-width="0.95"/>
<ellipse cx="1209.5" cy="277" rx="18.2" ry="11.8" fill="#fff" stroke="#1b1c28" stroke-width="0.95"/>
<g transform="translate(0,232)"><path d="M1185.7,383.7 L1185.7,425.5 Q1187,437 1209.5,438.5 Q1222,438 1222.9,434 L1222.9,412 L1233.2,395 L1233.2,383.7 Z" fill="#fff" stroke="#1b1c28" stroke-width="0.95"/><ellipse cx="1209.5" cy="383.7" rx="23.7" ry="11.6" fill="#fff" stroke="#1b1c28" stroke-width="0.95"/><path d="M1186,387 A23.4,11.4 0 0 0 1233,387 M1186.3,389.5 A23.2,11.2 0 0 0 1232.7,389.5" fill="none" stroke="#1b1c28" stroke-width="0.8"/><rect x="1191.3" y="370" width="36.4" height="13.7" fill="#fff"/><line x1="1191.3" y1="368" x2="1191.3" y2="383.7" stroke="#1b1c28" stroke-width="0.95"/><line x1="1227.7" y1="368" x2="1227.7" y2="383.7" stroke="#1b1c28" stroke-width="0.95"/><path d="M1191.3,383.7 A18.2,7.8 0 0 0 1227.7,383.7" fill="none" stroke="#1b1c28" stroke-width="0.95"/></g>
<g transform="translate(0,0)"><path d="M1185.7,383.7 L1185.7,425.5 Q1187,437 1209.5,438.5 Q1222,438 1222.9,434 L1222.9,412 L1233.2,395 L1233.2,383.7 Z" fill="#fff" stroke="#1b1c28" stroke-width="0.95"/><ellipse cx="1209.5" cy="383.7" rx="23.7" ry="11.6" fill="#fff" stroke="#1b1c28" stroke-width="0.95"/><path d="M1186,387 A23.4,11.4 0 0 0 1233,387 M1186.3,389.5 A23.2,11.2 0 0 0 1232.7,389.5" fill="none" stroke="#1b1c28" stroke-width="0.8"/><rect x="1191.3" y="370" width="36.4" height="13.7" fill="#fff"/><line x1="1191.3" y1="368" x2="1191.3" y2="383.7" stroke="#1b1c28" stroke-width="0.95"/><line x1="1227.7" y1="368" x2="1227.7" y2="383.7" stroke="#1b1c28" stroke-width="0.95"/><path d="M1191.3,383.7 A18.2,7.8 0 0 0 1227.7,383.7" fill="none" stroke="#1b1c28" stroke-width="0.95"/></g>
<g transform="translate(0,232)"><path d="M1222.6,404 L1222.6,443.5 A18,8.5 0 0 0 1258.6,443.5 L1258.6,404 Z" fill="#fff" stroke="#1b1c28" stroke-width="0.95"/><path d="M1222.6,434.2 A18,8.5 0 0 0 1258.6,434.2" fill="none" stroke="#1b1c28" stroke-width="1.7"/><path d="M1222.6,438 A18,8.5 0 0 0 1258.6,438" fill="none" stroke="#1b1c28" stroke-width="0.8"/><path d="M1207.3,430.4 Q1215,428 1222.6,427 L1222.6,441 L1207.3,433.4 Z" fill="#fff" stroke="#1b1c28" stroke-width="0.95"/><path d="M1259.2,414.6 L1380,473.5 L1357.4,492 L1324.6,486 L1262,457.5 C1248,451 1237,443 1233,438.5 C1229.5,434 1230,428 1237,424.5 L1259.2,414.6 Z" fill="#fff" stroke="#1b1c28" stroke-width="0"/><line x1="1259.2" y1="414.6" x2="1380" y2="473.5" stroke="#1b1c28" stroke-width="0.95"/><path d="M1237,424.5 C1230,428 1229.5,434 1233,438.5 C1237,443 1248,451 1262,457.5 L1330,487.5" fill="none" stroke="#1b1c28" stroke-width="1.0"/><path d="M1259.2,415 L1237,424.5 C1230,428 1229.5,434 1233,438.5" fill="none" stroke="#1b1c28" stroke-width="1.5"/><path d="M1262,457.5 l6,2.6 M1271,461.4 l6,2.6" fill="none" stroke="#1b1c28" stroke-width="1.3"/><path d="M1207.3,401.4 Q1222,399 1234,391 L1252,400 L1240,421 L1222.9,413.6 L1207.3,404.4 Z" fill="#fff" stroke="#1b1c28" stroke-width="0"/><path d="M1207.3,401.4 Q1222,399 1234,391" fill="none" stroke="#1b1c28" stroke-width="0.95"/><path d="M1207.3,401.4 L1207.3,404.4 L1222.9,413.6" fill="none" stroke="#1b1c28" stroke-width="0.95"/><path d="M1222.6,404 L1222.6,407.8 A18,12.5 0 0 0 1258.6,407.8 L1258.6,404 Z" fill="#fff" stroke="#1b1c28" stroke-width="0.95"/><ellipse cx="1240.6" cy="404" rx="18" ry="12.5" fill="#fff" stroke="#1b1c28" stroke-width="0.95"/><path d="M1222.6,405.8 A18,12.5 0 0 0 1258.6,405.8" fill="none" stroke="#1b1c28" stroke-width="0.8"/><path d="M1222.6,407.8 A18,12.5 0 0 0 1258.6,407.8" fill="none" stroke="#1b1c28" stroke-width="1.9"/><use href="#bigcyl" x="344" y="198"/><use href="#asm" x="344" y="198"/></g>
<g transform="translate(0,0)"><path d="M1222.6,404 L1222.6,443.5 A18,8.5 0 0 0 1258.6,443.5 L1258.6,404 Z" fill="#fff" stroke="#1b1c28" stroke-width="0.95"/><path d="M1222.6,434.2 A18,8.5 0 0 0 1258.6,434.2" fill="none" stroke="#1b1c28" stroke-width="1.7"/><path d="M1222.6,438 A18,8.5 0 0 0 1258.6,438" fill="none" stroke="#1b1c28" stroke-width="0.8"/><path d="M1207.3,430.4 Q1215,428 1222.6,427 L1222.6,441 L1207.3,433.4 Z" fill="#fff" stroke="#1b1c28" stroke-width="0.95"/><path d="M1259.2,414.6 L1380,473.5 L1357.4,492 L1324.6,486 L1262,457.5 C1248,451 1237,443 1233,438.5 C1229.5,434 1230,428 1237,424.5 L1259.2,414.6 Z" fill="#fff" stroke="#1b1c28" stroke-width="0"/><line x1="1259.2" y1="414.6" x2="1380" y2="473.5" stroke="#1b1c28" stroke-width="0.95"/><path d="M1237,424.5 C1230,428 1229.5,434 1233,438.5 C1237,443 1248,451 1262,457.5 L1330,487.5" fill="none" stroke="#1b1c28" stroke-width="1.0"/><path d="M1259.2,415 L1237,424.5 C1230,428 1229.5,434 1233,438.5" fill="none" stroke="#1b1c28" stroke-width="1.5"/><path d="M1262,457.5 l6,2.6 M1271,461.4 l6,2.6" fill="none" stroke="#1b1c28" stroke-width="1.3"/><path d="M1207.3,401.4 Q1222,399 1234,391 L1252,400 L1240,421 L1222.9,413.6 L1207.3,404.4 Z" fill="#fff" stroke="#1b1c28" stroke-width="0"/><path d="M1207.3,401.4 Q1222,399 1234,391" fill="none" stroke="#1b1c28" stroke-width="0.95"/><path d="M1207.3,401.4 L1207.3,404.4 L1222.9,413.6" fill="none" stroke="#1b1c28" stroke-width="0.95"/><path d="M1222.6,404 L1222.6,407.8 A18,12.5 0 0 0 1258.6,407.8 L1258.6,404 Z" fill="#fff" stroke="#1b1c28" stroke-width="0.95"/><ellipse cx="1240.6" cy="404" rx="18" ry="12.5" fill="#fff" stroke="#1b1c28" stroke-width="0.95"/><path d="M1222.6,405.8 A18,12.5 0 0 0 1258.6,405.8" fill="none" stroke="#1b1c28" stroke-width="0.8"/><path d="M1222.6,407.8 A18,12.5 0 0 0 1258.6,407.8" fill="none" stroke="#1b1c28" stroke-width="1.9"/><use href="#bigcyl" x="344" y="198"/><use href="#asm" x="344" y="198"/></g>
<g id="deskclamp">
<path d="M1021,803 Q1016,806 1018.3,812 Q1016,818 1022,821 Q1024,827 1033,826.5 Q1039,829.5 1047,828.3 Q1056,829 1061,825 Q1069,824 1069.5,818 Q1073,813 1071,807 Q1071,800 1063,799 Q1058,794.5 1050,795.5 Q1043,793.5 1035,795.5 Q1027,795.5 1024,799 Q1020,800 1021,803 Z" fill="#fff" stroke="#1b1c28" stroke-width="1.0"/>
<ellipse cx="1045" cy="806.5" rx="18.3" ry="9" fill="#fff" stroke="#1b1c28" stroke-width="1.0"/>
<path d="M1021.5,808 Q1024,815 1032,818 M1058,818 Q1066,815 1068.5,808 M1030,822 Q1028,826 1033,826.5 M1050,826 Q1047,828 1047,828.3" fill="none" stroke="#1b1c28" stroke-width="0.8"/>
<path d="M1035.3,801 L1035.3,809.5 Q1045,813.5 1054.7,809.5 L1054.7,801 Z" fill="#fff" stroke="#1b1c28" stroke-width="0.9"/>
<ellipse cx="1045" cy="801" rx="9.7" ry="3.6" fill="#fff" stroke="#1b1c28" stroke-width="0.9"/>
<path d="M1029,805 L1034,808 M1061,805 L1056,808 M1033,812 l-2,4 M1057,812 l2,4" fill="none" stroke="#1b1c28" stroke-width="1.0"/>
<rect x="1040.5" y="791" width="9" height="10" rx="1" fill="#555" stroke="#1b1c28" stroke-width="0.6"/>
<path d="M1012.1,768.6 C1012,778 1018,786 1030,789.5 C1040,792 1060,793 1081.6,792.5 L1101,779.8 L1101,760 L1020.3,749.2 C1014,751 1011.5,757 1012.1,768.6 Z" fill="#fff" stroke="#1b1c28" stroke-width="0.95"/>
<path d="M1020.3,749.2 C1013,752 1011,760 1011.5,765.6 C1013,774 1020,781 1030,785 C1040,788 1060,789 1081.6,788 L1096.6,777.6" fill="none" stroke="#1b1c28" stroke-width="0.95"/>
<path d="M1081.6,788 L1081.6,792.5" fill="none" stroke="#1b1c28" stroke-width="0.95"/>
<rect x="1040.5" y="759" width="9" height="14.5" rx="1" fill="#555" stroke="#1b1c28" stroke-width="0.7"/>
<path d="M1041,762 h8 M1041,765 h8 M1041,768 h8 M1041,771 h8" fill="none" stroke="#999" stroke-width="0.6"/>
<path d="M1007,742 L1072.6,736.5 L1090.6,747.7 L1090.6,750.7 Q1080,763 1057,768.6 L1057,765.6 Z" fill="#fff" stroke="#1b1c28" stroke-width="0.95"/>
<path d="M1057,765.6 Q1080,760 1090.6,747.7" fill="none" stroke="#1b1c28" stroke-width="0.95"/>
<path d="M1096.6,722.3 L1099.5,716.3 L1101,717.8 L1101,779.8 L1083.1,791 L1081.6,788 L1096.6,777.6 Z" fill="#fff" stroke="#1b1c28" stroke-width="0.95"/>
<path d="M988.2,702.1 L1031.6,678.2 L1099.5,716.3 L1101,717.8 L1096.6,722.3 L1055.5,745.5 C1040,746 1018,745.5 1005,740 C993,735 986,727 986,717.8 L986,708.9 Q986.5,704.5 988.2,702.1 Z" fill="#fff" stroke="#1b1c28" stroke-width="0.95"/>
<path d="M986,708.9 C986,722 990,728 995,732.8 C1003,739 1015,741.5 1030,743 C1040,744 1050,743 1055.5,742.5 L1099.5,717.8" fill="none" stroke="#1b1c28" stroke-width="0.95"/>
<path d="M1055.5,742.5 L1055.5,745.5" fill="none" stroke="#1b1c28" stroke-width="0.95"/>
<rect x="1040" y="745.2" width="11" height="2.6" fill="#fff" stroke="#1b1c28" stroke-width="0.7"/>
<ellipse cx="1022.7" cy="713.6" rx="2.9" ry="1.9" fill="#fff" stroke="#1b1c28" stroke-width="0.9"/><ellipse cx="1022.7" cy="713.9" rx="1.5" ry="0.9" fill="#1b1c28" stroke="#1b1c28" stroke-width="0"/>
<ellipse cx="1017.5" cy="724.2" rx="2.9" ry="1.9" fill="#fff" stroke="#1b1c28" stroke-width="0.9"/><ellipse cx="1017.5" cy="724.5" rx="1.5" ry="0.9" fill="#1b1c28" stroke="#1b1c28" stroke-width="0"/>
<ellipse cx="1036.3" cy="721.8" rx="2.9" ry="1.9" fill="#fff" stroke="#1b1c28" stroke-width="0.9"/><ellipse cx="1036.3" cy="722.1" rx="1.5" ry="0.9" fill="#1b1c28" stroke="#1b1c28" stroke-width="0"/>
</g>
<g id="arrows">
<g transform="translate(0,0)"><path d="M1164.43,178.87 A47.1,27.1 0 1 0 1244.38,165.67 L1240.35,168.18 A41.5,23.5 0 1 1 1169.91,179.61 Z" fill="#1b1c28"/><polygon points="1159.2,177.4 1171.6,170.6 1174.4,180.6 1168,179.2" fill="#1b1c28"/><polygon points="1234.9,163.4 1249.7,165 1244.5,168.8 1239.3,171.8" fill="#1b1c28"/></g>
<g transform="translate(33.4,123.5)"><path d="M1164.43,178.87 A47.1,27.1 0 1 0 1244.38,165.67 L1240.35,168.18 A41.5,23.5 0 1 1 1169.91,179.61 Z" fill="#1b1c28"/><polygon points="1159.2,177.4 1171.6,170.6 1174.4,180.6 1168,179.2" fill="#1b1c28"/><polygon points="1234.9,163.4 1249.7,165 1244.5,168.8 1239.3,171.8" fill="#1b1c28"/></g>
<g transform="translate(173,161.9)"><path d="M1164.43,178.87 A47.1,27.1 0 1 0 1244.38,165.67 L1240.35,168.18 A41.5,23.5 0 1 1 1169.91,179.61 Z" fill="#1b1c28"/><polygon points="1159.2,177.4 1171.6,170.6 1174.4,180.6 1168,179.2" fill="#1b1c28"/><polygon points="1234.9,163.4 1249.7,165 1244.5,168.8 1239.3,171.8" fill="#1b1c28"/></g>
<g transform="translate(66,257)"><path d="M1164.43,178.87 A47.1,27.1 0 1 0 1244.38,165.67 L1240.35,168.18 A41.5,23.5 0 1 1 1169.91,179.61 Z" fill="#1b1c28"/><polygon points="1159.2,177.4 1171.6,170.6 1174.4,180.6 1168,179.2" fill="#1b1c28"/><polygon points="1234.9,163.4 1249.7,165 1244.5,168.8 1239.3,171.8" fill="#1b1c28"/></g>
<path d="M1352,556 C1335,567 1322,585 1320.5,607 C1319.5,625 1330,633 1338,632.5 C1344,632 1348,630 1352,628" fill="none" stroke="#1b1c28" stroke-width="4.8"/>
<polygon points="1351.4,548.9 1359.3,553.1 1351.4,563.8 1352.5,556" fill="#1b1c28"/>
<polygon points="1351.4,619.8 1359.3,622.6 1351.4,635.7 1352.5,628" fill="#1b1c28"/>
<path d="M1058,624 C1058,610 1064,604.5 1073,604.3 C1088,604 1106,618 1113,637 C1120,655 1122,672 1114,679 C1111,682 1107,684 1102,684.5" fill="none" stroke="#1b1c28" stroke-width="4.6"/>
<polygon points="1050.5,619 1064,625.5 1057.8,635 1058,626.5" fill="#1b1c28"/>
<polygon points="1095,685.5 1103.5,676.5 1108.5,692.5 1103,686" fill="#1b1c28"/>
<line x1="1209.55" y1="219" x2="1209.55" y2="236.9" stroke="#1b1c28" stroke-width="1.2"/>
<line x1="1209.55" y1="244" x2="1209.55" y2="251.8" stroke="#1b1c28" stroke-width="1.2"/>
<line x1="1209.55" y1="258.5" x2="1209.55" y2="276.8" stroke="#1b1c28" stroke-width="1.2"/>
<line x1="1241.4" y1="341" x2="1241.4" y2="359.3" stroke="#1b1c28" stroke-width="1.2"/>
<line x1="1241.4" y1="367.2" x2="1241.4" y2="375" stroke="#1b1c28" stroke-width="1.2"/>
<line x1="1241.4" y1="382.2" x2="1241.4" y2="400" stroke="#1b1c28" stroke-width="1.2"/>
<line x1="1381.2" y1="380" x2="1381.2" y2="405.4" stroke="#1b1c28" stroke-width="1.2"/>
<line x1="1381.2" y1="412" x2="1381.2" y2="419.6" stroke="#1b1c28" stroke-width="1.2"/>
<line x1="1381.2" y1="426.3" x2="1381.2" y2="450.2" stroke="#1b1c28" stroke-width="1.2"/>
<line x1="1274.6" y1="469.5" x2="1274.6" y2="491" stroke="#1b1c28" stroke-width="1.2"/>
<line x1="1274.6" y1="498" x2="1274.6" y2="507" stroke="#1b1c28" stroke-width="1.2"/>
<path d="M1263.2,555.2 L1281.9,565.9 M1287.6,569.1 L1293.8,572.7 M1300,576.2 L1318.8,586.9" stroke="#1b1c28" stroke-width="0.8" fill="none"/>
<path d="M1107,622.5 L1221,558.6" stroke="#1b1c28" stroke-width="0.7" fill="none"/>
</g>
<defs><path id="frm" d="M-0.6,7.98 Q-1.2,-1 7.77,-0.31 L63.62,3.97 Q70.6,4.5 70.83,11.5 L72.07,50.3 Q72.3,57.3 65.49,58.94 L12.55,71.69 Q3.8,73.8 3.2,64.82 Z M6,9.09 Q5.8,5.6 9.29,5.79 L65.35,8.86 Q67.85,9 67.92,11.5 L69.03,51.3 Q69.1,53.8 66.65,54.32 L12.72,65.77 Q9.3,66.5 9.1,63.01 Z" fill="#191a24" fill-rule="evenodd"/></defs>
<g id="icons" fill="none" stroke="#191a24" stroke-linecap="butt">
<use href="#frm" x="654" y="951"/>
<use href="#frm" x="774" y="951"/>
<use href="#frm" x="894" y="951"/>
<use href="#frm" x="1014" y="951"/>
<use href="#frm" x="1134" y="951"/>
<use href="#frm" x="1254" y="951"/>
<use href="#frm" x="1374" y="951"/>

  <line x1="673" y1="1006.5" x2="714" y2="967" stroke-width="2.4"/>
  <polygon points="670,1009.5 673,998.5 674.5,1004.5 681,1006" fill="#191a24" stroke="none"/>
  <polygon points="717.5,964 714,975 712.5,969 706,968" fill="#191a24" stroke="none"/>
  <line x1="798.8" y1="962.5" x2="800.3" y2="1008.5" stroke-width="2.6" stroke-dasharray="6.2,6.3"/>
  <line x1="797.6" y1="941" x2="797.6" y2="950" stroke-width="2.4"/>
  <polygon points="797.6,936.3 803,945.5 797.6,943 792.2,945.5" fill="#191a24" stroke="none"/>
  <line x1="800.3" y1="1021.5" x2="800.3" y2="1030" stroke-width="2.4"/>
  <polygon points="800.3,1035 794.9,1025.8 800.3,1028.3 805.7,1025.8" fill="#191a24" stroke="none"/>
  <path d="M915.8,976 C915.5,995 924,1006 934.6,1006 C945,1006 953.5,995 953,976" stroke-width="2.5"/>
  <polygon points="916,971 921,982 916.5,979 911,980" fill="#191a24" stroke="none"/>
  <polygon points="952.5,971 958,980 952.5,979 947.5,982" fill="#191a24" stroke="none"/>
  <path d="M1071.5,952.5 L1072.7,961.5 M1072.7,1006 L1071.5,1013" stroke="#fff" stroke-width="4.6"/>
  <path d="M1052.5,946.5 C1055,941.5 1058,939.8 1060,939.8 C1065,940 1069,945.5 1071.3,953.8 M1072.4,960.3 C1073.2,970 1073.3,996 1072.7,1006.5 M1071.8,1012.5 C1069.5,1021.5 1065,1028.6 1060,1028.7 C1058,1028.7 1055,1027.5 1052.5,1022.5" stroke-width="3"/>
  <polygon points="1048,937.2 1057.9,944.2 1053,945.5 1047.4,949.5" fill="#191a24" stroke="none"/>
  <polygon points="1048,1031.5 1057.9,1024.3 1053,1023 1047.4,1019.5" fill="#191a24" stroke="none"/>
  <path d="M1201,999.1 L1208.5,998.5" stroke="#fff" stroke-width="5"/>
  <path d="M1156.5,993 C1165,998 1185,999.5 1202.3,998.8 M1207.5,998.3 C1220,997 1227.5,994 1227,989.8 C1226.5,986.5 1221,985 1213,984.8" stroke-width="3"/>
  <polygon points="1150.5,990.2 1163.5,988.3 1158,993 1157.2,1000" fill="#191a24" stroke="none"/>
  <polygon points="1205.5,985.8 1217.5,981 1213.5,985.5 1216.5,993" fill="#191a24" stroke="none"/>
  <ellipse cx="1295.2" cy="966.8" rx="3.4" ry="4.3" stroke-width="2.8"/>
  <path d="M1288,974.6 L1302,973.5 Q1306,973.3 1306.1,977.5 L1306.5,1002.5 Q1306.5,1006 1303,1006.4 L1290,1007.5 Q1286.3,1007.8 1286.2,1004 L1285.5,978 Q1285.5,974.8 1288,974.6 Z" stroke-width="3"/>
  <text x="1295.8" y="985.2" font-size="7.6" font-weight="bold" fill="#191a24" stroke="none" text-anchor="middle" textLength="13" lengthAdjust="spacingAndGlyphs">max</text>
  <text x="1295.8" y="997" font-size="12" font-weight="bold" fill="#191a24" stroke="none" text-anchor="middle">kg</text>
  <path d="M1407.5,976 L1424,974.8 Q1426,974.7 1426,976.7 L1426.3,991 Q1426.3,992.6 1424.5,992.9 L1409,995 Q1407.2,995.2 1407,993.3 L1406,977.5 Q1406,976.1 1407.5,976 Z" stroke-width="3"/>
  <text x="0" y="0" font-size="8.6" font-weight="bold" fill="#191a24" stroke="none" text-anchor="middle" transform="translate(1418.8,1006) rotate(-9)">VESA</text>
</g>
</svg>
</body></html>
